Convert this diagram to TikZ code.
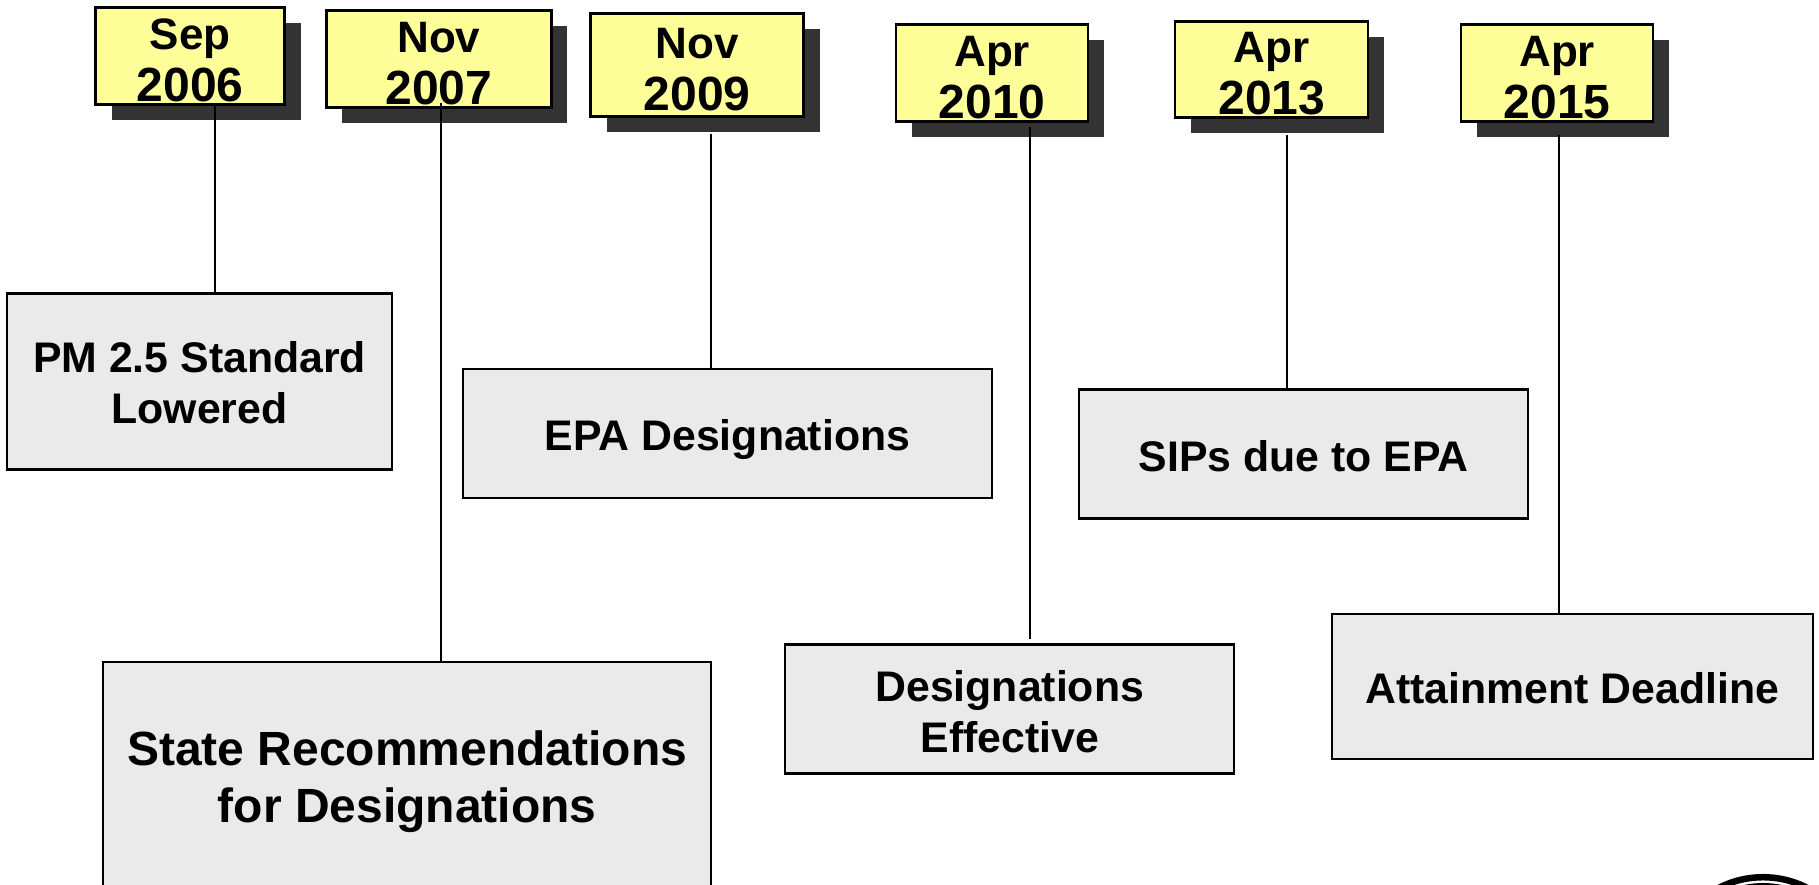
\documentclass[tikz,border=0pt]{standalone}
\usepackage{fontspec}
\setmainfont{Liberation Sans}[BoldFont={Liberation Sans Bold}]
\definecolor{dateyellow}{HTML}{FFFF99}
\definecolor{boxgray}{HTML}{EAEAEA}
\definecolor{shadowgray}{HTML}{333333}
\newcommand{\datetext}[2]{{\fontsize{44}{52}\selectfont\rule{0pt}{39pt}#1}\\{\fontsize{48}{52}\selectfont #2}}
\newcommand{\lift}[1]{\rule{0pt}{#1pt}}
\tikzset{
  datebox/.style={draw=black,line width=2.5pt,fill=dateyellow,align=center,inner sep=0pt,
    font=\bfseries\fontsize{48}{52}\selectfont,
    preaction={draw=none,fill=shadowgray,transform canvas={xshift=16pt,yshift=-16pt}}},
  graybox/.style={draw=black,line width=2.3pt,fill=boxgray,align=center,inner sep=0pt,
    font=\bfseries\fontsize{42.8}{51}\selectfont},
  bigbox/.style={graybox,font=\bfseries\fontsize{48}{57}\selectfont},
  link/.style={draw=black,line width=1.6pt},
  emblem/.style={draw=black}
}
\begin{document}
\begin{tikzpicture}[x=1pt,y=-1pt]
\useasboundingbox (0,0) rectangle (1819,884);
\coordinate (c1) at (215,0);
\coordinate (c2) at (441,0);
\coordinate (c3) at (711,0);
\coordinate (c4) at (1030,0);
\coordinate (c5) at (1287,0);
\coordinate (c6) at (1559,0);
\node[graybox,minimum width=385pt,minimum height=176pt] (pm) at (199.5,381.5) {\lift{33.5}PM 2.5 Standard\\Lowered};
\node[graybox,minimum width=529pt,minimum height=129pt] (epa) at (727.5,433.5) {\lift{42.6}EPA Designations};
\node[graybox,minimum width=449pt,minimum height=129pt] (sip) at (1303.5,453.9) {\lift{35.6}SIPs due to EPA};
\node[bigbox,minimum width=608pt,minimum height=240pt] (state) at (407.2,782.1) {State Recommendations\\for Designations};
\node[graybox,minimum width=449pt,minimum height=129pt] (eff) at (1009.7,709.1) {\lift{35.6}Designations\\Effective};
\node[graybox,minimum width=481pt,minimum height=145pt] (att) at (1572.2,686.6) {\lift{33.5}Attainment Deadline};
\node[datebox,minimum width=189pt,minimum height=97pt] (d1) at (190.1,55.9) {\datetext{Sep}{2006}};
\node[datebox,minimum width=225pt,minimum height=97pt] (d2) at (438.8,58.9) {\datetext{Nov}{2007}};
\node[datebox,minimum width=213pt,minimum height=103pt] (d3) at (697.1,64.9) {\datetext{Nov}{2009}};
\node[datebox,minimum width=192pt,minimum height=97pt] (d4) at (992.2,72.9) {\datetext{Apr}{2010}};
\node[datebox,minimum width=193pt,minimum height=96pt] (d5) at (1271.7,69.4) {\datetext{Apr}{2013}};
\node[datebox,minimum width=192pt,minimum height=97pt] (d6) at (1557.2,72.9) {\datetext{Apr}{2015}};
\draw[link] (d1.south -| c1) -- (pm.north -| c1);
\draw[link] ([yshift=6pt]d2.south -| c2) -- (state.north -| c2);
\draw[link] ([yshift=-16pt]d3.south -| c3) -- (epa.north -| c3);
\draw[link] ([yshift=-4pt]d4.south -| c4) -- ([yshift=4pt]eff.north -| c4);
\draw[link] ([yshift=-16pt]d5.south -| c5) -- (sip.north -| c5);
\draw[link] ([yshift=-12pt]d6.south -| c6) -- (att.north -| c6);
\begin{scope}
\clip (0,0) rectangle (1819,884);
\draw[emblem,line width=6.5pt] (1763,974) circle[radius=96.8pt];
\draw[emblem,line width=4pt] (1763,974) circle[radius=89pt];
\end{scope}
\end{tikzpicture}
\end{document}
